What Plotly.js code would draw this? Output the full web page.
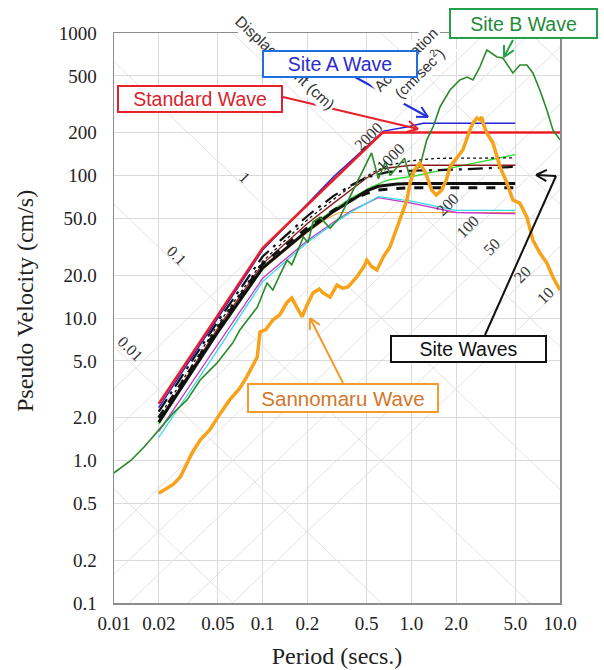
<!DOCTYPE html>
<html>
<head>
<meta charset="utf-8">
<script src="https://cdn.plot.ly/plotly-3.0.1.min.js"></script>
<style>html,body{margin:0;padding:0;background:#fff;}#chart{width:604px;height:670px;}</style>
</head>
<body>
<div id="chart"></div>
<script>
// ---------- tick labels ----------
const xTickVals = [0.01, 0.02, 0.05, 0.1, 0.2, 0.5, 1, 2, 5, 10];
const xTickText = ["0.01", "0.02", "0.05", "0.1", "0.2", "0.5", "1.0", "2.0", "5.0", "10.0"];
const yTickVals = [0.1, 0.2, 0.5, 1, 2, 5, 10, 20, 50, 100, 200, 500, 1000];
const yTickText = ["0.1", "0.2", "0.5", "1.0", "2.0", "5.0", "10.0", "20.0", "50.0", "100", "200", "500", "1000"];

// tripartite grid values
const accelLines = [10, 20, 50, 100, 200, 500, 1000, 2000];      // cm/sec^2
const dispLines = [0.001, 0.01, 0.1, 1, 10, 100, 1000];          // cm
const accelLabels = ["2000", "1000", "200", "100", "50", "20", "10"];
const dispLabels = ["0.01", "0.1", "1"];

// ---------- Standard Wave ----------
const stdT = [0.02, 0.1, 0.64, 10];
const stdV = [2.5, 31, 200, 200];

// ---------- Site A Wave ----------
const siteAT = [0.02, 0.1, 0.3, 0.65, 0.95, 1.2, 5];
const siteAV = [2.35, 30, 98, 205, 220, 233, 233];

// ---------- Site B Wave ----------
const siteBT = [0.01,0.013,0.016,0.02,0.025,0.031,0.038,0.049,0.063,0.07,0.082,0.092,0.107,0.117,0.135,0.146,0.157,0.173,0.188,0.202,0.218,0.243,0.284,0.331,0.386,0.43,0.473,0.54,0.6,0.67,0.72,0.8,0.9,0.97,1.05,1.14,1.27,1.4,1.56,1.82,2.12,2.37,2.6,2.89,3.22,3.77,4.13,4.82,5.37,5.99,6.57,7.32,8.16,8.96,10];
const siteBV = [0.82,1.0,1.25,1.65,2.15,2.66,3.67,4.8,6.7,8.2,10.2,11.9,17.6,15.7,21.6,25.5,23.6,29.9,37,33.8,47.1,51,42.6,51,70.6,90,109,144,95,125,100,115,132,100,110,115,178,219,303,398,468,491,468,577,760,679,668,524,596,596,524,398,288,209,178];

// ---------- Sannomaru Wave ----------
const sanT = [0.02,0.025,0.028,0.031,0.0335,0.038,0.044,0.052,0.06,0.07,0.078,0.092,0.096,0.105,0.117,0.13,0.146,0.157,0.17,0.184,0.2,0.218,0.24,0.255,0.284,0.316,0.345,0.375,0.43,0.48,0.502,0.54,0.587,0.65,0.718,0.838,0.933,0.98,1.05,1.14,1.24,1.37,1.47,1.6,1.72,1.82,2.03,2.22,2.48,2.6,2.76,2.89,2.98,3.04,3.22,3.54,3.95,4.4,4.82,5.37,5.99,6.57,7.32,8.16,8.96,10];
const sanV = [0.59,0.68,0.77,0.95,1.13,1.39,1.64,2.15,2.66,3.2,3.85,5.32,7.98,8.3,9.7,10.5,12.9,13.8,12,10.2,12.5,15,16,15,14,17,16.2,16.5,19.4,23,25.5,23,21.7,27,31.5,48.7,67,88.5,109,122,106,79,73,79,93,115,135,151,209,233,253,246,257,233,199,169,115,88.5,67.3,64,51,35.2,28.6,24.3,19.4,15.7];

// ---------- Site Waves ----------
const sw1T = [0.02, 0.05, 0.1, 0.15, 0.2, 0.3, 0.4, 0.5, 0.7, 1.0, 2.0, 5];   // black long-dash-dot
const sw1V = [2.2, 9.5, 27, 40, 52, 72, 86, 97, 106, 108, 110, 115];
const sw2T = [0.02, 0.05, 0.1, 0.15, 0.2, 0.3, 0.4, 0.55, 0.7, 1.0, 1.5, 5];  // black dotted
const sw2V = [2.0, 9, 25, 37, 49, 68, 85, 105, 118, 127, 132, 133];
const sw3T = [0.02, 0.05, 0.1, 0.15, 0.2, 0.3, 0.4, 0.5, 0.65, 1, 5];        // dark red
const sw3V = [1.9, 8.5, 24, 35, 46, 64, 80, 96, 112, 118, 118];
const sw4T = [0.02, 0.05, 0.1, 0.15, 0.2, 0.3, 0.4, 0.55, 0.7, 1.1, 2, 5];    // light green
const sw4V = [1.8, 8, 22, 32, 42, 58, 70, 84, 93, 100, 115, 140];
const sw5T = [0.02, 0.05, 0.1, 0.15, 0.2, 0.3, 0.4, 0.5, 0.6, 0.8, 1, 5];     // black thick solid
const sw5V = [1.85, 8, 22.5, 32, 41, 56, 68, 78, 84, 87, 88, 88];
const sw6T = [0.02, 0.05, 0.1, 0.15, 0.2, 0.3, 0.4, 0.5, 0.6, 0.8, 1, 5];     // black thick dashed
const sw6V = [2.0, 8.5, 24, 34, 43, 57, 68, 75, 79, 81, 82, 82];
const sw7T = [0.02, 0.05, 0.1, 0.15, 0.2, 0.27, 0.33, 5];                     // orange thin
const sw7V = [1.9, 8, 22, 31, 40, 50, 55, 55];
const sw8T = [0.02, 0.05, 0.1, 0.2, 0.3, 0.4, 0.6, 1, 2, 5];                  // cyan
const sw8V = [1.45, 6, 18, 34, 46, 56, 71, 66, 57, 57];
const sw9T = [0.02, 0.05, 0.1, 0.2, 0.3, 0.4, 0.6, 1, 2, 5];                  // magenta
const sw9V = [1.6, 6.5, 19, 35, 47, 57, 70, 64, 55, 54];

// ---------- geometry helpers (pixel -> paper) ----------
const PL = 114, PR = 560, PT = 33, PB = 603;
const px = x => (x - PL) / (PR - PL);
const py = y => (PB - y) / (PB - PT);

const traces = [];
const TWO_PI = 2 * Math.PI;
const Tmin = 0.01, Tmax = 10, Vmin = 0.1, Vmax = 1000;
accelLines.forEach(A => {
  const t0 = Math.max(Tmin, Vmin * TWO_PI / A), t1 = Math.min(Tmax, Vmax * TWO_PI / A);
  if (t1 > t0) traces.push({x: [t0, t1], y: [A * t0 / TWO_PI, A * t1 / TWO_PI], mode: 'lines',
    line: {color: '#e2e2e2', width: 1}, hoverinfo: 'skip'});
});
dispLines.forEach(D => {
  const t0 = Math.max(Tmin, TWO_PI * D / Vmax), t1 = Math.min(Tmax, TWO_PI * D / Vmin);
  if (t1 > t0) traces.push({x: [t0, t1], y: [TWO_PI * D / t0, TWO_PI * D / t1], mode: 'lines',
    line: {color: '#e2e2e2', width: 1}, hoverinfo: 'skip'});
});

function ln(x, y, color, width, dash) {
  traces.push({x: x, y: y, mode: 'lines', line: {color: color, width: width, dash: dash || 'solid'}, hoverinfo: 'skip'});
}
ln(sw7T, sw7V, '#f2a33a', 1.2);
ln(sw9T, sw9V, '#cc33cc', 1.3);
ln(sw8T, sw8V, '#33dde0', 1.3);
ln(sw4T, sw4V, '#33dd33', 1.3);
ln(sw3T, sw3V, '#8b1a1a', 1.3);
ln(sw2T, sw2V, '#111111', 1.3, 'dot');
ln(sw5T, sw5V, '#111111', 3);
ln(sw6T, sw6V, '#111111', 3, 'dash');
ln(sw1T, sw1V, '#111111', 2.2, 'longdashdot');
ln(siteAT, siteAV, '#2222d8', 1.5);
ln(stdT, stdV, '#ee1c25', 2.5);
ln(siteBT, siteBV, '#2a8a2a', 1.6);
ln(sanT, sanV, '#f7a21b', 3.5);

// ---------- arrows ----------
const shapes = [];
function arrow(pts, color, w) {
  for (let i = 0; i < pts.length - 1; i++) {
    shapes.push({type: 'line', xref: 'paper', yref: 'paper', x0: px(pts[i][0]), y0: py(pts[i][1]),
      x1: px(pts[i + 1][0]), y1: py(pts[i + 1][1]), line: {color: color, width: w}});
  }
  const a = pts[pts.length - 2], b = pts[pts.length - 1];
  const dx = b[0] - a[0], dy = b[1] - a[1], L = Math.hypot(dx, dy);
  const ux = dx / L, uy = dy / L, hl = 12, ang = 28 * Math.PI / 180;
  [ang, -ang].forEach(t => {
    const rx = -(ux * Math.cos(t) - uy * Math.sin(t)), ry = -(ux * Math.sin(t) + uy * Math.cos(t));
    shapes.push({type: 'line', xref: 'paper', yref: 'paper', x0: px(b[0]), y0: py(b[1]),
      x1: px(b[0] + rx * hl), y1: py(b[1] + ry * hl), line: {color: color, width: w}});
  });
}
arrow([[283, 97], [418, 129]], '#e8202a', 2);
arrow([[355, 77], [428, 117]], '#2030e0', 2);
arrow([[513, 40], [504, 57]], '#22a04a', 2);
arrow([[485, 335], [556, 176], [536, 175]], '#111111', 2);
arrow([[343, 383], [310, 318]], '#f39a2b', 2);

// ---------- annotations ----------
const serif = '"Liberation Serif", "Times New Roman", serif';
const sans = '"Liberation Sans", Arial, sans-serif';
const annotations = [];
function lab(text, x, y, angle, size, color, extra) {
  annotations.push(Object.assign({xref: 'paper', yref: 'paper', x: px(x), y: py(y), xanchor: 'center', yanchor: 'middle',
    text: text, showarrow: false, textangle: angle, font: {family: serif, size: size, color: color}}, extra || {}));
}
const dispPos = [[130, 349], [177, 255], [245, 177]];
dispLabels.forEach((t, i) => lab(t, dispPos[i][0], dispPos[i][1], 45, 16, '#333'));
const accPos = [[368, 136], [390, 157], [447, 204], [468, 227], [492, 247], [522, 274], [545, 295]];
accelLabels.forEach((t, i) => lab(t, accPos[i][0], accPos[i][1], -45, 16, '#333'));

lab('Displacement (cm)', 285, 62, 43, 15.5, '#333', {font: {family: sans, size: 15.5, color: '#333'}, bgcolor: 'white'});
lab('Acceleration<br>(cm/sec<sup>2</sup>)', 413, 67, -45, 15, '#333', {font: {family: sans, size: 15, color: '#333'}, bgcolor: 'white'});

function box(text, cx, cy, w, h, tcolor, bcolor, size) {
  annotations.push({xref: 'paper', yref: 'paper', x: px(cx), y: py(cy), xanchor: 'center', yanchor: 'middle',
    text: text, showarrow: false, font: {family: sans, size: size || 19.5, color: tcolor},
    bgcolor: 'white', bordercolor: bcolor, borderwidth: 2, borderpad: 0, width: w - 4, height: h - 4});
}
box('Standard Wave', 200, 99, 166, 28, '#d9232d', '#e8202a');
box('Site A Wave', 340, 64, 156, 28, '#2b2bd0', '#1f6fe0');
box('Site B Wave', 523, 23.5, 149, 31, '#1e8a3a', '#22a04a');
box('Site Waves', 468.5, 349, 157, 28, '#111111', '#111111');
box('Sannomaru Wave', 343, 398, 192, 30, '#d2772a', '#f59b2e', 20.5);

// y axis title
annotations.push({xref: 'paper', yref: 'paper', x: px(25), y: py(301), xanchor: 'center', yanchor: 'middle',
  text: 'Pseudo Velocity (cm/s)', showarrow: false, textangle: -90, font: {family: serif, size: 24, color: '#222'}});

const axisCommon = {
  type: 'log', showgrid: true, gridcolor: '#dadada', gridwidth: 1, zeroline: false,
  showline: true, mirror: true, linecolor: '#8c8c8c', linewidth: 1.5,
  ticks: 'outside', tickcolor: 'rgba(0,0,0,0)',
  tickfont: {family: serif, size: 19, color: '#222'}, fixedrange: true
};
const layout = {
  width: 604, height: 670, margin: {l: PL, r: 604 - PR, t: PT, b: 670 - PB},
  paper_bgcolor: 'white', plot_bgcolor: 'white', showlegend: false,
  xaxis: Object.assign({}, axisCommon, {range: [-2, 1], tickvals: xTickVals, ticktext: xTickText, ticklen: 3,
    title: {text: 'Period (secs.)', font: {family: serif, size: 24, color: '#222'}, standoff: 14}}),
  yaxis: Object.assign({}, axisCommon, {range: [-1, 3], tickvals: yTickVals, ticktext: yTickText, ticklen: 12}),
  shapes: shapes, annotations: annotations
};
Plotly.newPlot('chart', traces, layout, {displayModeBar: false, staticPlot: true});
</script>
</body>
</html>
